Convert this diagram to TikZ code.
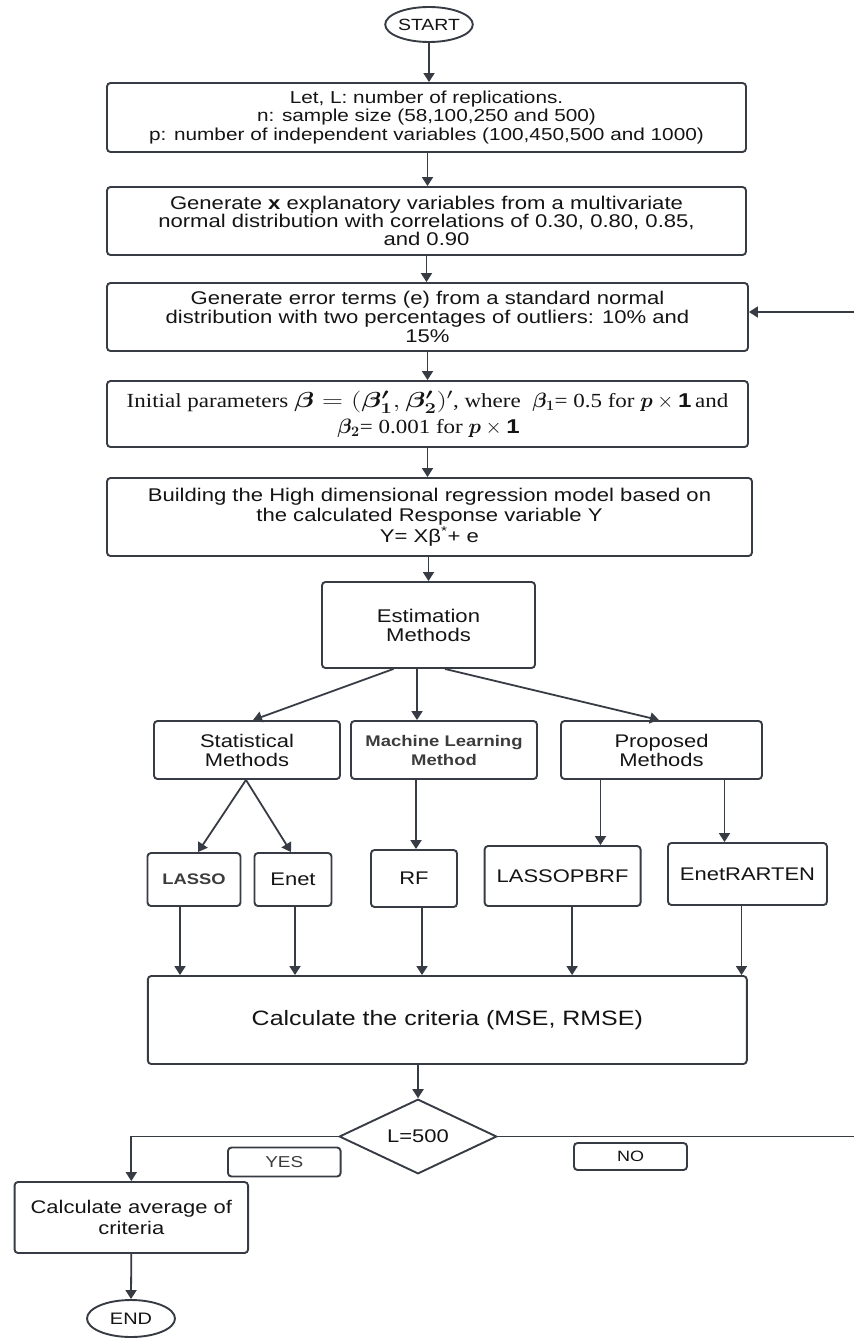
\documentclass[tikz,border=0pt]{standalone}
\usepackage{amsmath}
\usepackage{graphicx}
\usepackage{fontspec}
\setmainfont{Liberation Sans}[FakeStretch=1.2]
\newfontfamily\tnr{Liberation Serif}[FakeStretch=1.15]
\usetikzlibrary{arrows.meta,shapes.geometric}
\definecolor{ln}{RGB}{55,59,67}
\definecolor{tx}{RGB}{20,20,20}
\definecolor{tg}{RGB}{60,60,60}
\newcommand{\fs}[2]{\fontsize{#1}{#2}\selectfont}
\begin{document}
\begin{tikzpicture}[x=1pt,y=-1pt,
  box/.style={draw=ln, line width=1.9pt, rounded corners=3.5pt, align=center, inner sep=0pt, text=tx},
  oval/.style={draw=ln, line width=1.9pt, ellipse, inner sep=0pt, text=tx},
  arr/.style={draw=ln, line width=1.8pt, -{Triangle[length=9pt,width=11pt]}},
  plain/.style={draw=ln, line width=1.8pt},
  ]
\useasboundingbox (0,0) rectangle (854,1338);

\node[oval, minimum width=86pt, minimum height=35pt, font=\fs{16.2}{18}] (start) at (429,24.5) {START};

\node[box, minimum width=639pt, minimum height=69pt, font=\fs{17.3}{18.8}] (b1) at (426.5,117.5)
 {Let, L: number of replications.\\ n: sample size (58,100,250 and 500)\\ p: number of independent variables (100,450,500 and 1000)};

\node[box, minimum width=639pt, minimum height=68pt, font=\fs{18.4}{18.3}] (b2) at (426.5,221)
 {Generate \textbf{x} explanatory variables from a multivariate\\ normal distribution with correlations of 0.30, 0.80, 0.85,\\ and 0.90};

\node[box, minimum width=641pt, minimum height=68pt, font=\fs{18.4}{19}] (b3) at (427.5,317)
 {Generate error terms (e) from a standard normal\\ distribution with two percentages of outliers: 10\% and\\ 15\%};

\node[box, minimum width=641pt, minimum height=66pt, font=\tnr\fs{20}{26}] (b4) at (427.5,414)
 {Initial parameters \scalebox{1.4}[1.05]{$\boldsymbol{\beta}=(\boldsymbol{\beta_1'},\boldsymbol{\beta_2'})'$}, where\ \ $\boldsymbol{\beta_1}$= 0.5 for $\boldsymbol{p}\times\mathbf{1}$ and\\ $\boldsymbol{\beta_2}$= 0.001 for $\boldsymbol{p}\times\mathbf{1}$};

\node[box, minimum width=645pt, minimum height=78pt, font=\fs{18.4}{20.5}] (b5) at (429.5,517)
 {Building the High dimensional regression model based on\\ the calculated Response variable Y\\ Y= Xβ\textsuperscript{*}+ e};

\node[box, minimum width=213pt, minimum height=86pt, font=\fs{18.4}{19}] (est) at (428.5,625)
 {Estimation\\ Methods};

\node[box, minimum width=186pt, minimum height=58pt, font=\fs{18.3}{19}] (stat) at (247,750)
 {Statistical\\ Methods};
\node[box, minimum width=186pt, minimum height=58pt, text=tg, font=\fs{15.4}{19}\bfseries] (ml) at (444,750)
 {Machine Learning\\ Method};
\node[box, minimum width=201pt, minimum height=58pt, font=\fs{18.3}{19}] (prop) at (661.5,750)
 {Proposed\\ Methods};

\node[box, minimum width=93pt, minimum height=53pt, text=tg, font=\fs{15.3}{18}\bfseries] (lasso) at (194,879.5) {LASSO};
\node[box, minimum width=77pt, minimum height=53pt, font=\fs{18.3}{18}] (enet) at (293,879.5) {Enet};
\node[box, minimum width=86pt, minimum height=57pt, font=\fs{18.3}{18}] (rf) at (414,878.5) {RF};
\node[box, minimum width=156pt, minimum height=60pt, font=\fs{18.3}{18}] (lpb) at (562.6,876) {LASSOPBRF};
\node[box, minimum width=159pt, minimum height=62pt, font=\fs{18.3}{18}] (ert) at (747.5,874) {EnetRARTEN};

\node[box, minimum width=599pt, minimum height=88pt, font=\fs{20.8}{22}] (calc) at (447.3,1020)
 {Calculate the criteria (MSE, RMSE)};

\node[draw=ln, line width=1.9pt, diamond, inner sep=0pt, minimum width=157.5pt, minimum height=59pt, text=tx, font=\fs{18.3}{19}] (dia) at (418,1136.5)
 {L=500};

\node[box, minimum width=112.6pt, minimum height=29pt, text=tg, font=\fs{15.8}{18}] (yes) at (284.3,1162) {YES};
\node[box, minimum width=113pt, minimum height=27pt, font=\fs{15}{18}] (no) at (630.5,1156.5) {NO};

\node[box, minimum width=233.5pt, minimum height=71pt, font=\fs{18.3}{21}] (avg) at (131.3,1217.5)
 {Calculate average of\\ criteria};

\node[oval, minimum width=88pt, minimum height=37pt, font=\fs{16.6}{18}] (end) at (131,1318.5) {END};

\coordinate (noR) at (854,1133);
\coordinate (loopR) at (854,312);

% main column
\draw[arr] (start.south) -- (start.south |- b1.north);
\draw[arr] ([xshift=1pt]b1.south) -- ([xshift=1pt]b1.south |- b2.north);
\draw[arr] (b2.south) -- (b2.south |- b3.north);
\draw[arr] (b3.south) -- (b3.south |- b4.north);
\draw[arr] (b4.south) -- (b4.south |- b5.north);
\draw[arr] (est.north |- b5.south) -- (est.north);
\draw[arr] (loopR) -- (loopR -| b3.east);

% estimation branches
\draw[arr] ([xshift=-35pt]est.south) -- ([xshift=6pt]stat.north);
\draw[arr] ([xshift=-11.5pt]est.south) -- ([xshift=-11.5pt]est.south |- ml.north);
\draw[arr] ([xshift=16.5pt]est.south) -- ([xshift=-2.5pt]prop.north);

\draw[arr] ([xshift=-1pt]stat.south) -- ([xshift=4pt]lasso.north);
\draw[arr] ([xshift=-1pt]stat.south) -- ([xshift=-2pt]enet.north);
\draw[arr] ([xshift=2pt]rf.north |- ml.south) -- ([xshift=2pt]rf.north);
\draw[arr] ([xshift=-61pt]prop.south) -- ([xshift=-61pt]prop.south |- lpb.north);
\draw[arr] ([xshift=63pt]prop.south) -- ([xshift=63pt]prop.south |- ert.north);

% into calc
\draw[arr] ([xshift=-14pt]lasso.south) -- ([xshift=-14pt]lasso.south |- calc.north);
\draw[arr] ([xshift=2pt]enet.south) -- ([xshift=2pt]enet.south |- calc.north);
\draw[arr] ([xshift=8pt]rf.south) -- ([xshift=8pt]rf.south |- calc.north);
\draw[arr] ([xshift=9.5pt]lpb.south) -- ([xshift=9.5pt]lpb.south |- calc.north);
\draw[arr] ([xshift=-6pt]ert.south) -- ([xshift=-6pt]ert.south |- calc.north);

% decision
\draw[arr] (dia.north |- calc.south) -- (dia.north);
\draw[arr] (dia.west) -| (avg.north);
\draw[plain] (dia.east) -- (dia.east -| noR);
\draw[arr] (avg.south) -- (end.north);
\end{tikzpicture}
\end{document}
